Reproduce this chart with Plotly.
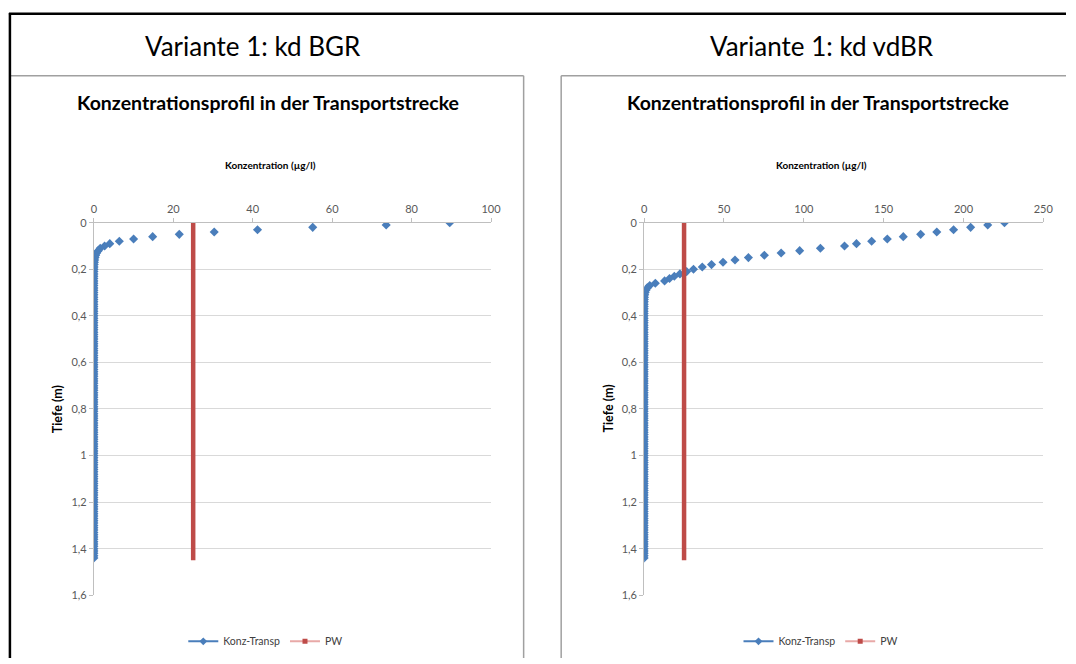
import plotly.graph_objects as go

W, H = 1076, 664

# ---------------- data ----------------
depth_m = [
    0.00, 0.01, 0.02, 0.03, 0.04, 0.05, 0.06, 0.07, 0.08, 0.09,
    0.10, 0.11, 0.12, 0.13, 0.14, 0.15, 0.16, 0.17, 0.18, 0.19,
    0.20, 0.21, 0.22, 0.23, 0.24, 0.25, 0.26, 0.27, 0.28, 0.29,
    0.30, 0.31, 0.32, 0.33, 0.34, 0.35, 0.36, 0.37, 0.38, 0.39,
    0.40, 0.41, 0.42, 0.43, 0.44, 0.45, 0.46, 0.47, 0.48, 0.49,
    0.50, 0.51, 0.52, 0.53, 0.54, 0.55, 0.56, 0.57, 0.58, 0.59,
    0.60, 0.61, 0.62, 0.63, 0.64, 0.65, 0.66, 0.67, 0.68, 0.69,
    0.70, 0.71, 0.72, 0.73, 0.74, 0.75, 0.76, 0.77, 0.78, 0.79,
    0.80, 0.81, 0.82, 0.83, 0.84, 0.85, 0.86, 0.87, 0.88, 0.89,
    0.90, 0.91, 0.92, 0.93, 0.94, 0.95, 0.96, 0.97, 0.98, 0.99,
    1.00, 1.01, 1.02, 1.03, 1.04, 1.05, 1.06, 1.07, 1.08, 1.09,
    1.10, 1.11, 1.12, 1.13, 1.14, 1.15, 1.16, 1.17, 1.18, 1.19,
    1.20, 1.21, 1.22, 1.23, 1.24, 1.25, 1.26, 1.27, 1.28, 1.29,
    1.30, 1.31, 1.32, 1.33, 1.34, 1.35, 1.36, 1.37, 1.38, 1.39,
    1.40, 1.41, 1.42, 1.43, 1.44,
]

# Variante 1: kd BGR  (Konz-Transp, µg/l)
conc_bgr = [
    89.6, 73.6, 55.1, 41.2, 30.3, 21.5, 14.8, 10.0, 6.4, 4.0,
    2.7, 1.6, 1.1, 0.7, 0.45, 0.3, 0.2, 0.12, 0.08, 0.05,
    0.03, 0.02, 0.01, 0, 0, 0, 0, 0, 0, 0,
    0, 0, 0, 0, 0, 0, 0, 0, 0, 0,
    0, 0, 0, 0, 0, 0, 0, 0, 0, 0,
    0, 0, 0, 0, 0, 0, 0, 0, 0, 0,
    0, 0, 0, 0, 0, 0, 0, 0, 0, 0,
    0, 0, 0, 0, 0, 0, 0, 0, 0, 0,
    0, 0, 0, 0, 0, 0, 0, 0, 0, 0,
    0, 0, 0, 0, 0, 0, 0, 0, 0, 0,
    0, 0, 0, 0, 0, 0, 0, 0, 0, 0,
    0, 0, 0, 0, 0, 0, 0, 0, 0, 0,
    0, 0, 0, 0, 0, 0, 0, 0, 0, 0,
    0, 0, 0, 0, 0, 0, 0, 0, 0, 0,
    0, 0, 0, 0, 0,
]

# Variante 1: kd vdBR  (Konz-Transp, µg/l)
conc_vdbr = [
    225.7, 215.2, 204.5, 193.8, 183.3, 173.2, 162.3, 152.3, 142.5, 133.0,
    125.5, 110.4, 97.4, 85.8, 75.3, 65.3, 56.9, 49.4, 42.2, 36.4,
    30.9, 26.6, 22.4, 18.9, 15.9, 12.8, 7.0, 3.5, 1.9, 1.1,
    0.6, 0.35, 0.2, 0.12, 0.07, 0.04, 0.02, 0.01, 0, 0,
    0, 0, 0, 0, 0, 0, 0, 0, 0, 0,
    0, 0, 0, 0, 0, 0, 0, 0, 0, 0,
    0, 0, 0, 0, 0, 0, 0, 0, 0, 0,
    0, 0, 0, 0, 0, 0, 0, 0, 0, 0,
    0, 0, 0, 0, 0, 0, 0, 0, 0, 0,
    0, 0, 0, 0, 0, 0, 0, 0, 0, 0,
    0, 0, 0, 0, 0, 0, 0, 0, 0, 0,
    0, 0, 0, 0, 0, 0, 0, 0, 0, 0,
    0, 0, 0, 0, 0, 0, 0, 0, 0, 0,
    0, 0, 0, 0, 0, 0, 0, 0, 0, 0,
    0, 0, 0, 0, 0,
]

# PW (Prüfwert) vertical line
pw_depth = [0.0, 1.45]
pw_conc = [25, 25]

x_ticks_bgr = [0, 20, 40, 60, 80, 100]
x_ticks_vdbr = [0, 50, 100, 150, 200, 250]
y_tick_vals = [0, 0.2, 0.4, 0.6, 0.8, 1.0, 1.2, 1.4, 1.6]
y_tick_text = ["0", "0,2", "0,4", "0,6", "0,8", "1", "1,2", "1,4", "1,6"]

panel_titles = ["Variante 1: kd BGR", "Variante 1: kd vdBR"]
chart_title = "Konzentrationsprofil in der Transportstrecke"
x_title = "Konzentration (µg/l)"
y_title = "Tiefe (m)"
series_names = ["Konz-Transp", "PW"]

# ---------------- styling ----------------
BLUE = "#4A7EBB"
RED = "#BE4B48"
RED_LIGHT = "#E8A9A7"
GRID = "#D9D9D9"
AXIS = "#BFBFBF"
FRAME = "#A0A0A0"
FONT = "Lato"
TICK_FONT = dict(family=FONT, size=11, color="#595959")


def px(x):
    return x / W


def py(y):
    return 1 - y / H


fig = go.Figure()

panels = [
    dict(data=conc_bgr, xr=[0, 100], xt=x_ticks_bgr, dom=[92, 494], xa="x", ya="y",
         legend="legend", head_cx=253, title_cx=268, xtitle_cx=271, ytitle_x=56, leg_cx=266),
    dict(data=conc_vdbr, xr=[0, 250], xt=x_ticks_vdbr, dom=[649, 1053], xa="x2", ya="y2",
         legend="legend2", head_cx=829, title_cx=825, xtitle_cx=829, ytitle_x=613, leg_cx=828),
]

annotations = []
for i, p in enumerate(panels):
    fig.add_trace(go.Scatter(
        x=p["data"], y=depth_m, mode="markers", xaxis=p["xa"], yaxis=p["ya"],
        marker=dict(symbol="diamond", size=7, color=BLUE),
        showlegend=False, name=series_names[0]))
    fig.add_trace(go.Scatter(
        x=pw_conc, y=pw_depth, mode="lines", xaxis=p["xa"], yaxis=p["ya"],
        line=dict(color=RED, width=4.5), showlegend=False, name=series_names[1]))
    # legend entries
    fig.add_trace(go.Scatter(
        x=[None], y=[None], mode="lines+markers", xaxis=p["xa"], yaxis=p["ya"],
        line=dict(color=BLUE, width=2), marker=dict(symbol="diamond", size=6, color=BLUE),
        name=series_names[0], legend=p["legend"]))
    fig.add_trace(go.Scatter(
        x=[None], y=[None], mode="lines+markers", xaxis=p["xa"], yaxis=p["ya"],
        line=dict(color=RED_LIGHT, width=2), marker=dict(symbol="square", size=5, color=RED),
        name=series_names[1], legend=p["legend"]))

    ax = dict(
        domain=[px(p["dom"][0]), px(p["dom"][1])], range=p["xr"], side="top",
        tickvals=p["xt"], ticktext=[str(v) for v in p["xt"]], tickfont=TICK_FONT,
        showgrid=False, zeroline=False, showline=True, linecolor=AXIS, linewidth=1,
        ticks="outside", ticklen=4, tickcolor=AXIS, anchor=p["ya"])
    ay = dict(
        domain=[py(600), py(220)], range=[1.6, 0], tickvals=y_tick_vals, ticktext=y_tick_text,
        tickfont=TICK_FONT, showgrid=True, gridcolor=GRID, gridwidth=1, zeroline=False,
        showline=True, linecolor=AXIS, linewidth=1, ticks="outside", ticklen=4,
        tickcolor=AXIS, anchor=p["xa"])
    key = "" if i == 0 else "2"
    fig.update_layout(**{"xaxis" + key: ax, "yaxis" + key: ay})

    annotations += [
        dict(text=panel_titles[i], x=px(p["head_cx"]), y=py(40), xref="paper", yref="paper",
             showarrow=False, xanchor="center", yanchor="middle",
             font=dict(family=FONT, size=26, color="#000000")),
        dict(text="<b>" + chart_title + "</b>", x=px(p["title_cx"]), y=py(97), xref="paper",
             yref="paper", showarrow=False, xanchor="center", yanchor="middle",
             font=dict(family=FONT, size=19.5, color="#000000")),
        dict(text="<b>" + x_title + "</b>", x=px(p["xtitle_cx"]), y=py(161), xref="paper",
             yref="paper", showarrow=False, xanchor="center", yanchor="middle",
             font=dict(family=FONT, size=10, color="#000000")),
        dict(text="<b>" + y_title + "</b>", x=px(p["ytitle_x"]), y=py(410), xref="paper",
             yref="paper", showarrow=False, xanchor="center", yanchor="middle", textangle=-90,
             font=dict(family=FONT, size=12.5, color="#000000")),
    ]


def seg(x0, y0, x1, y1, color, width):
    return dict(type="line", xref="paper", yref="paper", x0=px(x0), x1=px(x1),
                y0=py(y0), y1=py(y1), line=dict(color=color, width=width))


shapes = [
    # left chart box (open at the bottom)
    seg(8, 70, 527, 70, FRAME, 1.5),
    seg(527, 70, 527, 664, FRAME, 1.5),
    # right chart box (continues past right edge)
    seg(565, 70, 1076, 70, FRAME, 1.5),
    seg(565, 70, 565, 664, FRAME, 1.5),
    # black outer frame
    seg(6, 7, 1076, 7, "#000000", 2.5),
    seg(7, 6, 7, 664, "#000000", 2.5),
]

legend_common = dict(orientation="h", xanchor="center", yanchor="middle",
                     font=dict(family=FONT, size=10.5, color="#404040"),
                     bgcolor="rgba(0,0,0,0)", itemwidth=30, tracegroupgap=0)

fig.update_layout(
    autosize=True,
    margin=dict(l=0, r=0, t=0, b=0, pad=0),
    paper_bgcolor="white", plot_bgcolor="white",
    annotations=annotations, shapes=shapes,
    legend=dict(x=px(panels[0]["leg_cx"]), y=py(647), **legend_common),
    legend2=dict(x=px(panels[1]["leg_cx"]), y=py(647), **legend_common),
)

post = (
    "document.body.style.margin='0';"
    "document.body.style.overflow='hidden';"
    "var gd=document.getElementById('{plot_id}');"
    "gd.style.width='100vw';gd.style.height='100vh';"
    "Plotly.Plots.resize(gd);"
)

fig.write_html("out.html", config={"displayModeBar": False, "responsive": True},
               default_width="100vw", default_height="100vh", post_script=post)
